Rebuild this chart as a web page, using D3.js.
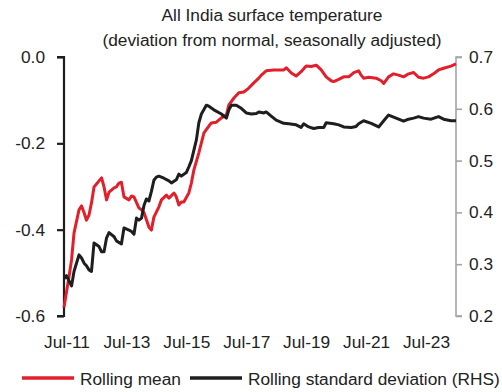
<!DOCTYPE html>
<html>
<head>
<meta charset="utf-8">
<script src="https://cdn.jsdelivr.net/npm/d3@7"></script>
<style>
  body { margin: 0; background: #fff; }
  text { font-family: "Liberation Sans", Arial, sans-serif; fill: #222; }
</style>
</head>
<body>
<div id="chart"></div>
<script>
// All India surface temperature: rolling mean (LHS) vs rolling std dev (RHS)

const titleLines = ["All India surface temperature", "(deviation from normal, seasonally adjusted)"];
const xTickLabels = ["2011-07", "2013-07", "2015-07", "2017-07", "2019-07", "2021-07", "2023-07"];
const leftTicks = [0.0, -0.2, -0.4, -0.6];
const rightTicks = [0.7, 0.6, 0.5, 0.4, 0.3, 0.2];

const meanDates = ["2011-06","2011-08","2011-09","2011-10","2011-12","2012-01","2012-02","2012-03","2012-04","2012-05",
  "2012-06","2012-08","2012-09","2012-10","2012-11","2012-12","2013-02","2013-03","2013-04","2013-05",
  "2013-06","2013-08","2013-09","2013-10","2013-12","2014-01","2014-02","2014-04","2014-05","2014-06",
  "2014-08","2014-09","2014-11","2014-12","2015-02","2015-03","2015-04","2015-05","2015-06","2015-08",
  "2015-09","2015-10","2015-12","2016-01","2016-02","2016-04","2016-05","2016-07","2016-09","2016-11",
  "2016-12","2017-02","2017-04","2017-06","2017-08","2017-10","2017-12","2018-01","2018-03","2018-06",
  "2018-10","2018-11","2019-01","2019-03","2019-05","2019-07","2019-09","2019-11","2020-01","2020-03",
  "2020-05","2020-06","2020-08","2020-10","2020-12","2021-02","2021-04","2021-05","2021-06","2021-08",
  "2021-11","2022-01","2022-02","2022-04","2022-06","2022-08","2022-10","2022-12","2023-02","2023-04",
  "2023-06","2023-08","2023-10","2023-12","2024-02","2024-05","2024-07"];
const meanValues = [-0.58,-0.509,-0.470,-0.408,-0.354,-0.345,-0.361,-0.378,-0.366,-0.338,
  -0.301,-0.287,-0.280,-0.301,-0.331,-0.313,-0.303,-0.301,-0.292,-0.290,
  -0.324,-0.331,-0.322,-0.324,-0.350,-0.354,-0.361,-0.394,-0.401,-0.371,
  -0.347,-0.331,-0.320,-0.327,-0.315,-0.324,-0.343,-0.336,-0.336,-0.315,
  -0.292,-0.262,-0.222,-0.199,-0.176,-0.160,-0.153,-0.151,-0.141,-0.134,
  -0.111,-0.095,-0.083,-0.081,-0.072,-0.060,-0.049,-0.042,-0.032,-0.030,
  -0.030,-0.025,-0.037,-0.044,-0.034,-0.021,-0.022,-0.019,-0.030,-0.046,
  -0.055,-0.057,-0.052,-0.046,-0.046,-0.036,-0.032,-0.042,-0.049,-0.047,
  -0.049,-0.055,-0.061,-0.046,-0.039,-0.042,-0.046,-0.039,-0.036,-0.047,
  -0.049,-0.046,-0.039,-0.030,-0.026,-0.021,-0.016];

const sdDates = ["2011-06","2011-07","2011-09","2011-10","2011-12","2012-01","2012-02","2012-03","2012-04","2012-05",
  "2012-06","2012-08","2012-09","2012-10","2012-11","2012-12","2013-02","2013-03","2013-05","2013-06",
  "2013-08","2013-09","2013-10","2013-11","2013-12","2014-01","2014-02","2014-03","2014-04","2014-05",
  "2014-06","2014-07","2014-08","2014-10","2014-12","2015-01","2015-03","2015-04","2015-05","2015-07",
  "2015-08","2015-09","2015-11","2015-12","2016-01","2016-03","2016-04","2016-06","2016-09","2016-11",
  "2016-12","2017-01","2017-03","2017-05","2017-07","2017-09","2017-11","2017-12","2018-02","2018-03",
  "2018-05","2018-07","2018-10","2018-12","2019-03","2019-05","2019-06","2019-08","2019-10","2019-12",
  "2020-02","2020-03","2020-06","2020-08","2020-10","2021-01","2021-03","2021-04","2021-06","2021-09",
  "2021-12","2022-02","2022-04","2022-06","2022-08","2022-10","2022-12","2023-02","2023-04","2023-06",
  "2023-09","2023-12","2024-02","2024-05","2024-07"];
const sdValues = [0.272,0.278,0.258,0.286,0.318,0.312,0.302,0.297,0.289,0.286,
  0.341,0.334,0.324,0.324,0.351,0.361,0.353,0.345,0.339,0.370,
  0.366,0.363,0.358,0.389,0.385,0.389,0.414,0.426,0.422,0.440,
  0.462,0.468,0.470,0.466,0.461,0.457,0.463,0.474,0.470,0.477,
  0.488,0.500,0.540,0.573,0.590,0.607,0.605,0.598,0.590,0.582,
  0.598,0.607,0.607,0.601,0.592,0.590,0.591,0.594,0.592,0.594,
  0.586,0.578,0.572,0.571,0.569,0.564,0.571,0.565,0.562,0.564,
  0.564,0.573,0.571,0.569,0.565,0.564,0.566,0.571,0.577,0.572,
  0.565,0.577,0.588,0.584,0.580,0.576,0.580,0.582,0.585,0.582,
  0.580,0.585,0.580,0.577,0.577];

const legendItems = [
  { label: "Rolling mean", color: "#e1202b" },
  { label: "Rolling standard deviation (RHS)", color: "#1e1e1e" }
];

const width = 502, height = 392;
const plot = { left: 64, right: 456, top: 57, bottom: 316 };
const fontSize = "17.3px";
const parseMonth = d3.timeParse("%Y-%m");

const svg = d3.select("#chart").append("svg")
  .attr("width", width)
  .attr("height", height);

const x = d3.scaleTime()
  .domain([parseMonth("2011-06"), parseMonth("2024-07")])
  .range([plot.left, plot.right]);

const yL = d3.scaleLinear().domain([-0.6, 0.0]).range([plot.bottom, plot.top]);
const yR = d3.scaleLinear().domain([0.2, 0.7]).range([plot.bottom, plot.top]);

// Title
svg.append("g").selectAll("text")
  .data(titleLines)
  .join("text")
  .attr("x", 272)
  .attr("y", (d, i) => 21 + i * 25)
  .attr("text-anchor", "middle")
  .style("font-size", "17.3px")
  .text(d => d);

// Left axis
const axL = svg.append("g")
  .attr("transform", `translate(${plot.left},0)`)
  .call(d3.axisLeft(yL).tickValues(leftTicks).tickSize(7).tickPadding(12).tickFormat(d3.format(".1f")));
axL.select(".domain").attr("stroke", "#1e1e1e").attr("stroke-width", 2.2)
  .attr("d", `M-7,${plot.top}H0V${plot.bottom}H-7`);
axL.selectAll(".tick line").attr("stroke", "#1e1e1e").attr("stroke-width", 2.2);
axL.selectAll(".tick text").style("font-size", fontSize).attr("fill", "#222")
  .text(d => d === 0 ? "0.0" : d3.format(".1f")(d).replace("−", "-"));

// Right axis
const axR = svg.append("g")
  .attr("transform", `translate(${plot.right},0)`)
  .call(d3.axisRight(yR).tickValues(rightTicks).tickSize(6).tickPadding(7).tickFormat(d3.format(".1f")));
axR.select(".domain").attr("stroke", "#a3a3a3").attr("stroke-width", 1.6)
  .attr("d", `M6,${plot.top}H0V${plot.bottom}H6`);
axR.selectAll(".tick line").attr("stroke", "#a3a3a3").attr("stroke-width", 1.6);
axR.selectAll(".tick text").style("font-size", fontSize).attr("fill", "#222");

// Bottom axis: labels only
const axB = svg.append("g")
  .attr("transform", `translate(0,${plot.bottom})`)
  .call(d3.axisBottom(x).tickValues(xTickLabels.map(parseMonth)).tickSize(0).tickPadding(20)
    .tickFormat(d3.timeFormat("Jul-%y")));
axB.select(".domain").remove();
axB.selectAll(".tick text").style("font-size", fontSize).attr("fill", "#222");

// Lines
const meanData = meanDates.map((d, i) => ({ date: parseMonth(d), v: meanValues[i] }));
const sdData = sdDates.map((d, i) => ({ date: parseMonth(d), v: sdValues[i] }));

svg.append("path")
  .datum(meanData)
  .attr("fill", "none")
  .attr("stroke", legendItems[0].color)
  .attr("stroke-width", 3)
  .attr("stroke-linejoin", "round")
  .attr("d", d3.line().x(d => x(d.date)).y(d => yL(d.v)));

svg.append("path")
  .datum(sdData)
  .attr("fill", "none")
  .attr("stroke", legendItems[1].color)
  .attr("stroke-width", 3)
  .attr("stroke-linejoin", "round")
  .attr("d", d3.line().x(d => x(d.date)).y(d => yR(d.v)));

// Legend
const legendX = [22, 190];
const leg = svg.append("g").selectAll("g")
  .data(legendItems)
  .join("g")
  .attr("transform", (d, i) => `translate(${legendX[i]},378)`);
leg.append("line")
  .attr("x1", 0).attr("x2", 52)
  .attr("stroke", d => d.color)
  .attr("stroke-width", 3.5);
leg.append("text")
  .attr("x", 58)
  .attr("y", 6.5)
  .style("font-size", fontSize)
  .text(d => d.label);
</script>
</body>
</html>
